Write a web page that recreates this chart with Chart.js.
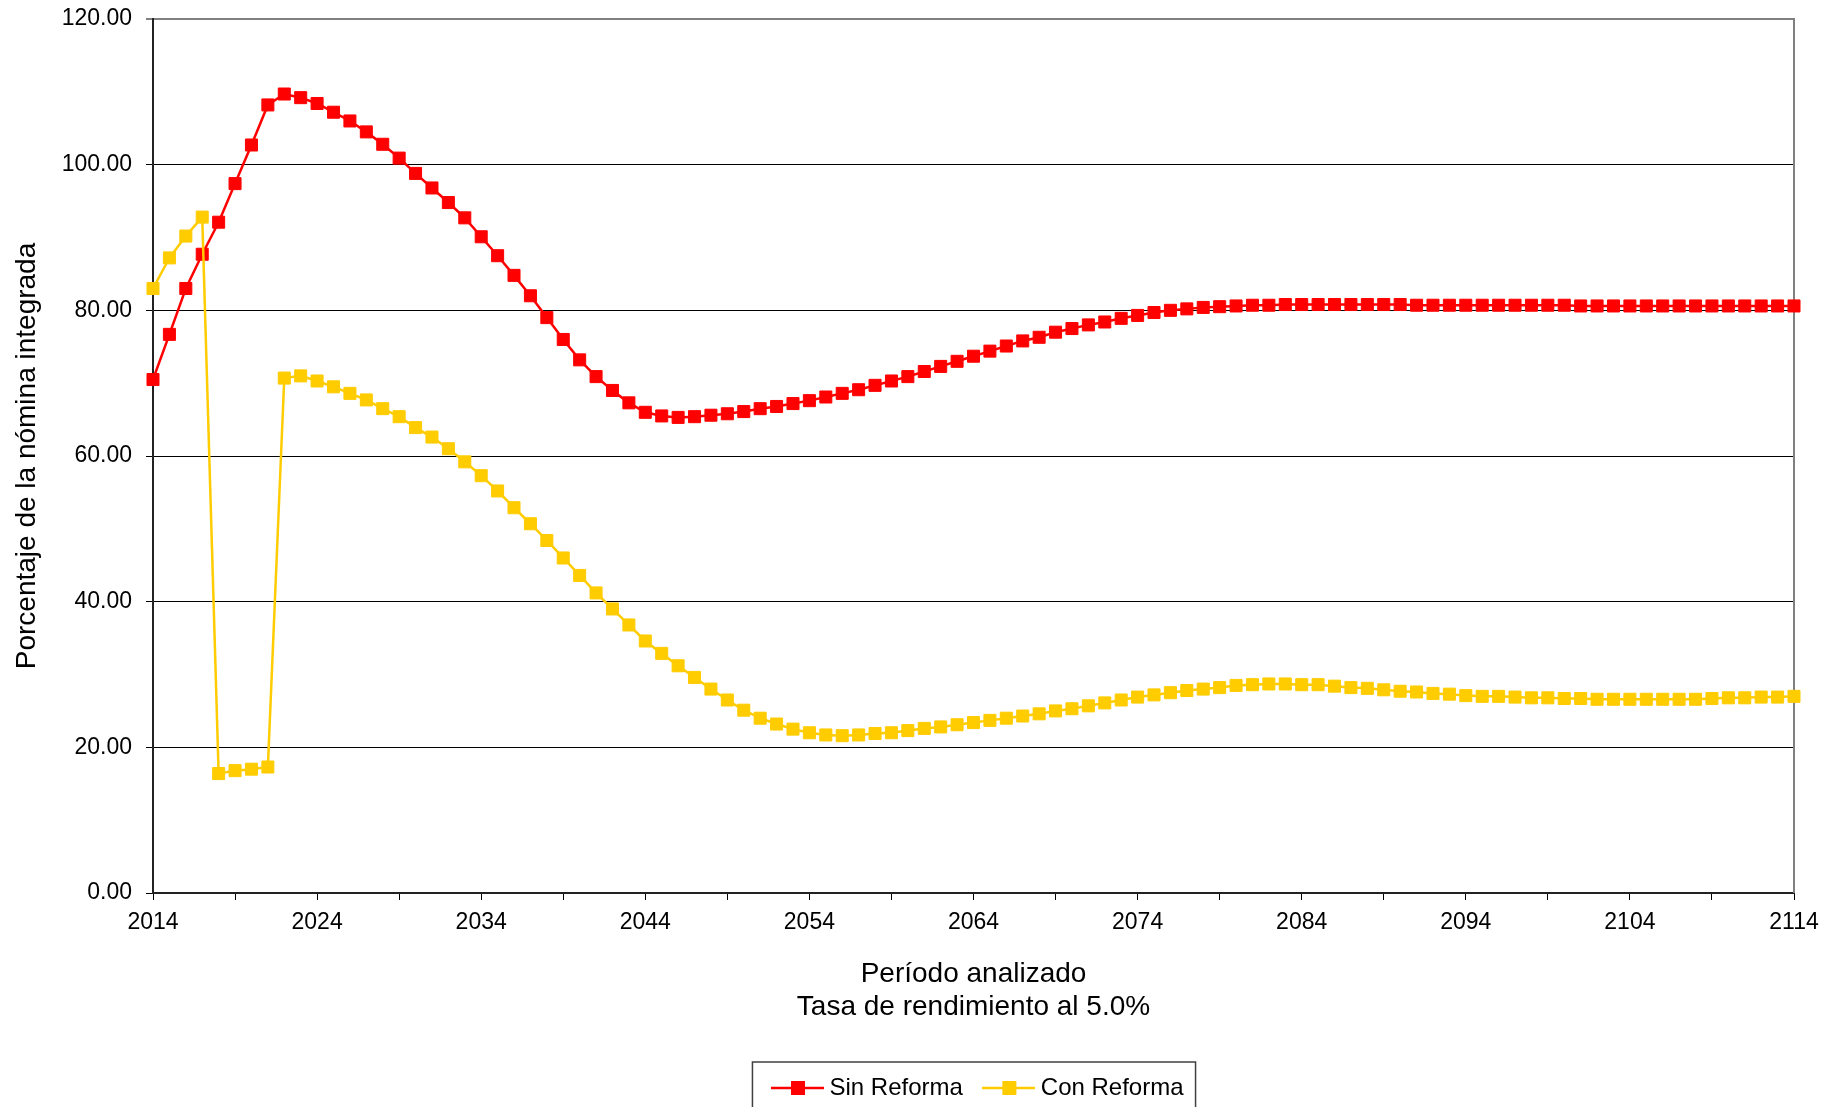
<!DOCTYPE html>
<html>
<head>
<meta charset="utf-8">
<script src="https://cdn.jsdelivr.net/npm/chart.js@4.4.1/dist/chart.umd.min.js"></script>
<style>
  html, body { margin: 0; padding: 0; background: #fff; }
  #wrap { width: 1843px; height: 1107px; position: relative; }
</style>
</head>
<body>
<div id="wrap"><canvas id="chart"></canvas></div>
<script>
// años del periodo analizado
const years = Array.from({ length: 101 }, (_, i) => 2014 + i);

// porcentaje de la nómina integrada, 2014..2114
const sinReforma = [
  70.5, 76.7, 83.0, 87.7, 92.1, 97.4, 102.7, 108.2, 109.7, 109.2,
  108.4, 107.2, 106.0, 104.5, 102.8, 100.9, 98.8, 96.8, 94.8, 92.7,
  90.1, 87.5, 84.8, 82.0, 79.0, 76.0, 73.2, 70.9, 69.0, 67.3,
  66.0, 65.5, 65.3, 65.4, 65.6, 65.8, 66.1, 66.5, 66.8, 67.2,
  67.6, 68.1, 68.6, 69.1, 69.7, 70.3, 70.9, 71.6, 72.3, 73.0,
  73.7, 74.4, 75.1, 75.8, 76.3, 77.0, 77.5, 78.0, 78.4, 78.9,
  79.3, 79.7, 80.0, 80.2, 80.4, 80.5, 80.6, 80.7, 80.7, 80.8,
  80.8, 80.8, 80.8, 80.8, 80.8, 80.8, 80.8, 80.7, 80.7, 80.7,
  80.7, 80.7, 80.7, 80.7, 80.7, 80.7, 80.7, 80.6, 80.6, 80.6,
  80.6, 80.6, 80.6, 80.6, 80.6, 80.6, 80.6, 80.6, 80.6, 80.6,
  80.6
];
const conReforma = [
  83.0, 87.2, 90.2, 92.8, 16.4, 16.8, 17.0, 17.3, 70.7, 71.0,
  70.3, 69.5, 68.6, 67.7, 66.5, 65.4, 63.9, 62.6, 61.0, 59.2,
  57.3, 55.2, 52.9, 50.7, 48.4, 46.0, 43.6, 41.2, 39.0, 36.8,
  34.6, 32.9, 31.2, 29.6, 28.0, 26.5, 25.1, 24.0, 23.2, 22.5,
  22.0, 21.7, 21.6, 21.7, 21.9, 22.0, 22.3, 22.6, 22.8, 23.1,
  23.4, 23.7, 24.0, 24.3, 24.6, 25.0, 25.3, 25.7, 26.1, 26.5,
  26.9, 27.2, 27.5, 27.8, 28.0, 28.2, 28.5, 28.6, 28.7, 28.7,
  28.6, 28.6, 28.4, 28.2, 28.1, 27.9, 27.7, 27.6, 27.4, 27.3,
  27.1, 27.0, 27.0, 26.9, 26.8, 26.8, 26.7, 26.7, 26.6, 26.6,
  26.6, 26.6, 26.6, 26.6, 26.6, 26.7, 26.8, 26.8, 26.9, 26.9,
  27.0
];

// marcas de los ejes
const xTickYears = [2014, 2019, 2024, 2029, 2034, 2039, 2044, 2049, 2054, 2059, 2064,
  2069, 2074, 2079, 2084, 2089, 2094, 2099, 2104, 2109, 2114];
const xLabelYears = [2014, 2024, 2034, 2044, 2054, 2064, 2074, 2084, 2094, 2104, 2114];
const yTickValues = [0, 20, 40, 60, 80, 100, 120];

const FONT = '"Liberation Sans", Arial, sans-serif';
const RED = '#FF0000';
const YELLOW = '#FFCC00';

// icono de leyenda: linea con cuadrado al centro
function legendIcon(color) {
  const c = document.createElement('canvas');
  c.width = 53;
  c.height = 16;
  const g = c.getContext('2d');
  g.strokeStyle = color;
  g.lineWidth = 2.5;
  g.beginPath();
  g.moveTo(0, 8);
  g.lineTo(53, 8);
  g.stroke();
  g.fillStyle = color;
  g.fillRect(20, 1, 14, 14);
  return c;
}
const icons = [legendIcon(RED), legendIcon(YELLOW)];

// borde derecho gris y recuadro de la leyenda
const framePlugin = {
  id: 'frame',
  afterLayout(chart) {
    // la leyenda del original queda un poco a la derecha del centro
    if (chart.legend) {
      chart.legend.left += 7;
      chart.legend.right += 7;
    }
  },
  beforeDatasetsDraw(chart) {
    const { ctx, chartArea: a } = chart;
    ctx.save();
    ctx.strokeStyle = '#808080';
    ctx.lineWidth = 2;
    ctx.beginPath();
    ctx.moveTo(a.right, a.top - 1);
    ctx.lineTo(a.right, a.bottom);
    ctx.stroke();
    ctx.restore();
  },
  afterDraw(chart) {
    const hb = chart.legend && chart.legend.legendHitBoxes;
    if (!hb || !hb.length) return;
    const first = hb[0];
    const last = hb[hb.length - 1];
    const l = first.left - 25;
    const r = last.left + last.width + 12;
    const t = first.top + first.height / 2 - 26;
    const { ctx } = chart;
    ctx.save();
    ctx.strokeStyle = '#404040';
    ctx.lineWidth = 1.5;
    ctx.strokeRect(l, t, r - l, chart.height - t + 10);
    ctx.restore();
  }
};

new Chart(document.getElementById('chart'), {
  type: 'line',
  data: {
    labels: years,
    datasets: [
      {
        label: 'Sin Reforma',
        data: sinReforma,
        borderColor: RED,
        backgroundColor: RED,
        borderWidth: 2.5,
        pointStyle: 'rect',
        pointRadius: 8.5,
        pointBorderWidth: 1,
        pointBorderColor: RED,
        pointBackgroundColor: RED,
        tension: 0,
        clip: false,
        order: 1
      },
      {
        label: 'Con Reforma',
        data: conReforma,
        borderColor: YELLOW,
        backgroundColor: YELLOW,
        borderWidth: 2.5,
        pointStyle: 'rect',
        pointRadius: 8.5,
        pointBorderWidth: 1,
        pointBorderColor: YELLOW,
        pointBackgroundColor: YELLOW,
        tension: 0,
        clip: false,
        order: 0
      }
    ]
  },
  options: {
    responsive: true,
    maintainAspectRatio: false,
    animation: false,
    layout: { padding: { top: 19, right: 49, bottom: -3, left: 0 } },
    scales: {
      x: {
        type: 'linear',
        min: 2014,
        max: 2114,
        afterBuildTicks: (axis) => { axis.ticks = xTickYears.map(v => ({ value: v })); },
        afterFit: (scale) => { scale.height = 157; },
        ticks: {
          autoSkip: false,
          maxRotation: 0,
          padding: 9,
          color: '#000',
          font: { family: FONT, size: 23 },
          callback: (v) => xLabelYears.includes(v) ? String(v) : ''
        },
        grid: {
          drawOnChartArea: false,
          drawTicks: true,
          tickLength: 7,
          color: '#000',
          lineWidth: 1
        },
        border: { display: true, color: '#222', width: 2 },
        title: {
          display: true,
          text: ['Período analizado', 'Tasa de rendimiento al 5.0%'],
          color: '#000',
          font: { family: FONT, size: 28, lineHeight: 1.18 },
          padding: { top: 0, bottom: 26 }
        }
      },
      y: {
        min: 0,
        max: 120,
        afterBuildTicks: (axis) => { axis.ticks = yTickValues.map(v => ({ value: v })); },
        afterFit: (scale) => {
          scale.width = 153;
          // sin margen extra arriba: el area empieza justo bajo el borde
          scale.paddingTop = 10;
          scale.paddingBottom = 10;
        },
        ticks: {
          padding: 14,
          color: '#000',
          font: { family: FONT, size: 23 },
          callback: (v) => Number(v).toFixed(2)
        },
        grid: {
          drawTicks: true,
          tickLength: 7,
          color: (ctx) => ctx.tick && ctx.tick.value === 120 ? '#808080' : '#000',
          lineWidth: (ctx) => ctx.tick && ctx.tick.value === 120 ? 2 : 1
        },
        border: { display: true, color: '#222', width: 2 },
        title: {
          display: true,
          text: 'Porcentaje de la nómina integrada',
          color: '#000',
          font: { family: FONT, size: 28, lineHeight: 1.2 },
          padding: { top: 10, bottom: 0 }
        }
      }
    },
    plugins: {
      legend: {
        position: 'bottom',
        fullSize: false,
        labels: {
          usePointStyle: true,
          pointStyleWidth: 40,
          padding: 26,
          color: '#000',
          font: { family: FONT, size: 24 },
          sort: (a, b) => a.datasetIndex - b.datasetIndex,
          generateLabels: (chart) =>
            Chart.defaults.plugins.legend.labels.generateLabels(chart).map(item => ({
              ...item,
              pointStyle: icons[item.datasetIndex],
              lineWidth: 0
            }))
        }
      },
      tooltip: { enabled: false }
    }
  },
  plugins: [framePlugin]
});
</script>
</body>
</html>
